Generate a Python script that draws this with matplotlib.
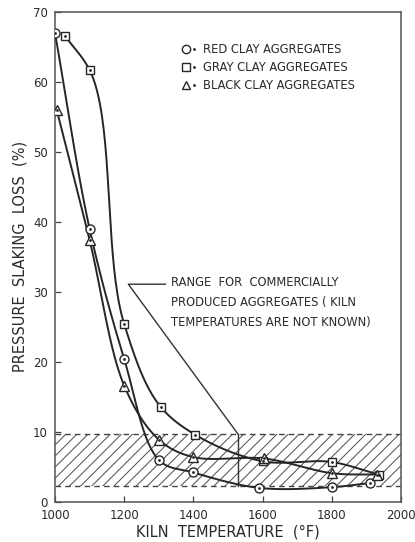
import numpy as np
import matplotlib.pyplot as plt
from matplotlib.lines import Line2D
from matplotlib.legend_handler import HandlerTuple

# Données (température en °F, perte en %)
red_temp = [1000, 1100, 1200, 1300, 1400, 1590, 1800, 1910]
red_loss = [67.0, 39.0, 20.4, 6.0, 4.2, 2.0, 2.1, 2.7]

gray_temp = [1030, 1100, 1200, 1305, 1405, 1600, 1800, 1935]
gray_loss = [66.5, 61.7, 25.4, 13.6, 9.6, 5.8, 5.7, 3.9]

black_temp = [1005, 1100, 1200, 1300, 1400, 1605, 1800, 1930]
black_loss = [56.0, 37.4, 16.6, 8.9, 6.4, 6.2, 4.1, 3.9]

labels = ["RED CLAY AGGREGATES", "GRAY CLAY AGGREGATES", "BLACK CLAY AGGREGATES"]

# plage des granulats commerciaux
range_low = 2.3
range_high = 9.7

ink = "#262626"
plt.rcParams['font.family'] = ['DejaVu Sans']
plt.rcParams['hatch.linewidth'] = 0.75
plt.rcParams['hatch.color'] = "#555555"


def lisser(xs, ys, n=40, alpha=0.5):
    """Catmull-Rom (alpha réglable), calculé dans un repère proche des pixels."""
    sx, sy = 346 / 1000, 490 / 70
    P = np.column_stack([(np.array(xs) - 1000) * sx, np.array(ys) * sy])
    P = np.vstack([2 * P[0] - P[1], P, 2 * P[-1] - P[-2]])
    out = []
    for i in range(1, len(P) - 2):
        p0, p1, p2, p3 = P[i - 1], P[i], P[i + 1], P[i + 2]
        t0 = 0.0
        t1 = t0 + np.linalg.norm(p1 - p0) ** alpha
        t2 = t1 + np.linalg.norm(p2 - p1) ** alpha
        t3 = t2 + np.linalg.norm(p3 - p2) ** alpha
        t = np.linspace(t1, t2, n)[:, None]
        a1 = (t1 - t) / (t1 - t0) * p0 + (t - t0) / (t1 - t0) * p1
        a2 = (t2 - t) / (t2 - t1) * p1 + (t - t1) / (t2 - t1) * p2
        a3 = (t3 - t) / (t3 - t2) * p2 + (t - t2) / (t3 - t2) * p3
        b1 = (t2 - t) / (t2 - t0) * a1 + (t - t0) / (t2 - t0) * a2
        b2 = (t3 - t) / (t3 - t1) * a2 + (t - t1) / (t3 - t1) * a3
        c = (t2 - t) / (t2 - t1) * b1 + (t - t1) / (t2 - t1) * b2
        out.append(c)
    C = np.vstack(out)
    return C[:, 0] / sx + 1000, C[:, 1] / sy


fig = plt.figure(figsize=(4.15, 5.42), dpi=100)
ax = fig.add_axes([0.1325, 0.074, 0.834, 0.904])

# bande hachurée
ax.fill_between([1000, 2000], range_low, range_high, facecolor="none",
                edgecolor="#555555", hatch="///", linewidth=0)
for yv in (range_low, range_high):
    ax.plot([1000, 2000], [yv, yv], color="#444444", lw=1.0, ls=(0, (4, 3)))

series = [
    (red_temp, red_loss, "o", 6.5, 0.5),
    (gray_temp, gray_loss, "s", 6.0, 0.7),
    (black_temp, black_loss, "^", 6.5, 0.5),
]
handles = []
for xs, ys, mk, ms, a in series:
    cx, cy = lisser(xs, ys, alpha=a)
    ax.plot(cx, cy, color=ink, lw=1.4, zorder=3)
    ax.plot(xs, ys, ls="none", marker=mk, ms=ms, mfc="white", mec=ink, mew=1.0, zorder=4)
    ax.plot(xs, ys, ls="none", marker=".", ms=2, color=ink, zorder=5)
    h1 = Line2D([], [], ls="none", marker=mk, ms=ms - 0.5, mfc="white", mec=ink, mew=1.0)
    h2 = Line2D([], [], ls="none", marker=".", ms=2, color=ink)
    handles.append((h1, h2))

ax.legend(handles, labels, handler_map={tuple: HandlerTuple(ndivide=None)},
          loc="upper left", bbox_to_anchor=(0.36, 0.945), frameon=False,
          fontsize=8.3, handlelength=1.0, handletextpad=0.6, labelspacing=0.4,
          borderaxespad=0, labelcolor="#2a2a2a")

# repère de la plage commerciale
ax.plot([1530, 1530], [range_low, range_high], color="#333333", lw=1.0)
ax.plot([1530, 1212, 1319], [range_high - 0.1, 31.1, 31.1], color="#333333", lw=1.0)
ax.text(1335, 32.3, "RANGE  FOR  COMMERCIALLY\nPRODUCED AGGREGATES ( KILN\nTEMPERATURES ARE NOT KNOWN)",
        fontsize=8.3, color="#2a2a2a", va="top", ha="left", linespacing=1.7)

ax.set_xlim(1000, 2000)
ax.set_ylim(0, 70)
ax.set_xticks([1000, 1200, 1400, 1600, 1800, 2000])
ax.set_yticks([0, 10, 20, 30, 40, 50, 60, 70])
ax.tick_params(direction="in", length=4, width=0.9, labelsize=8.5,
               labelcolor="#2a2a2a", color="#444444", pad=5)
for s in ax.spines.values():
    s.set_color("#555555")
    s.set_linewidth(1.1)

ax.set_xlabel("KILN  TEMPERATURE  (°F)", fontsize=10.5, color="#2a2a2a", labelpad=2)
ax.set_ylabel("PRESSURE  SLAKING  LOSS  (%)", fontsize=10.5, color="#2a2a2a", labelpad=4)

fig.savefig("out.png", dpi=100)
